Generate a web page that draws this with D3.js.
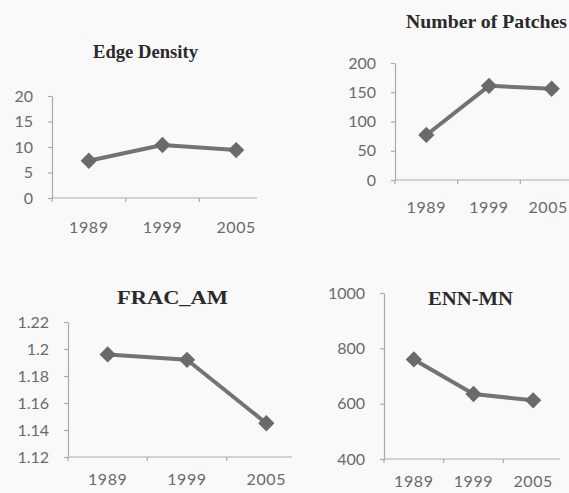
<!DOCTYPE html>
<html>
<head>
<meta charset="utf-8">
<script src="https://cdn.jsdelivr.net/npm/d3@7"></script>
<style>
  html, body { margin: 0; padding: 0; background: #f9f9f9; }
  svg { display: block; }
</style>
</head>
<body>
<svg id="chart" width="569" height="493"></svg>
<script>
// ---- data ----
const years = ["1989", "1999", "2005"];
const edgeDensity = [7.3, 10.4, 9.4];
const numberOfPatches = [77, 161, 156];
const fracAM = [1.196, 1.192, 1.145];
const ennMN = [760, 635, 612];
const edgeTicks = [0, 5, 10, 15, 20];
const patchTicks = [0, 50, 100, 150, 200];
const fracTicks = [1.12, 1.14, 1.16, 1.18, 1.2, 1.22];
const ennTicks = [400, 600, 800, 1000];
const titles = ["Edge Density", "Number of Patches", "FRAC_AM", "ENN-MN"];

const svg = d3.select("#chart");
const W = 569;

const panels = [
  { title: titles[0], values: edgeDensity, ticks: edgeTicks, fmt: d => String(d),
    x0: 52, x1: 273, y0: 198, y1: 96, clipR: 258, axisEnd: 257,
    tx: 93, ty: 58, tw: 105, lp: 24 },
  { title: titles[1], values: numberOfPatches, ticks: patchTicks, fmt: d => String(d),
    x0: 395, x1: 583, y0: 180, y1: 63, clipR: 569, axisEnd: 583,
    tx: 406, ty: 28, tw: 161, lp: 22 },
  { title: titles[2], values: fracAM, ticks: fracTicks, fmt: d => String(+d.toFixed(2)),
    x0: 68, x1: 306, y0: 457, y1: 322, clipR: 292, axisEnd: 292,
    tx: 117, ty: 304, tw: 111, lp: 17 },
  { title: titles[3], values: ennMN, ticks: ennTicks, fmt: d => String(d),
    x0: 384, x1: 563, y0: 459, y1: 293, clipR: 569, axisEnd: 560,
    tx: 428, ty: 305, tw: 85, lp: 17 }
];

panels.forEach((p, i) => {
  const clipId = "clip" + i;
  svg.append("clipPath").attr("id", clipId)
    .append("rect").attr("x", p.x0 - 60).attr("y", p.y1 - 60)
    .attr("width", p.clipR - (p.x0 - 60)).attr("height", p.y0 - p.y1 + 110);

  const g = svg.append("g").attr("clip-path", `url(#${clipId})`);

  const x = d3.scaleBand().domain(years).range([p.x0, p.x1]).paddingInner(0).paddingOuter(0);
  const y = d3.scaleLinear().domain([p.ticks[0], p.ticks[p.ticks.length - 1]]).range([p.y0, p.y1]);

  // y axis
  const ya = g.append("g").attr("transform", `translate(${p.x0},0)`)
    .call(d3.axisLeft(y).tickValues(p.ticks).tickFormat(p.fmt).tickSize(4).tickPadding(15).tickSizeOuter(0));
  ya.select(".domain").attr("stroke", "#ababab").attr("stroke-width", 1.2);
  ya.selectAll(".tick line").attr("stroke", "#ababab").attr("stroke-width", 1.2);
  ya.selectAll(".tick text").attr("fill", "#6a6a6a")
    .style("font-family", "Lato, 'Open Sans', sans-serif").style("font-size", "16px");

  // x axis (labels)
  const xa = g.append("g").attr("transform", `translate(0,${p.y0})`)
    .call(d3.axisBottom(x).tickSize(0).tickPadding(p.lp));
  xa.select(".domain").remove();
  xa.selectAll(".tick text").attr("fill", "#6a6a6a")
    .style("font-family", "Lato, 'Open Sans', sans-serif").style("font-size", "16px")
    .style("letter-spacing", "0.6px")
    .each(function() {
      // keep labels inside the picture's right edge
      const b = this.getBoundingClientRect();
      if (b.right > W - 1) d3.select(this).attr("dx", -(b.right - (W - 1)));
    });

  // x axis line and category-boundary ticks
  g.append("line").attr("x1", p.x0).attr("x2", p.axisEnd)
    .attr("y1", p.y0).attr("y2", p.y0)
    .attr("stroke", "#ababab").attr("stroke-width", 1.2);
  const bounds = years.map(yr => x(yr));
  g.selectAll(".xt").data(bounds).enter().append("line")
    .attr("x1", d => d).attr("x2", d => d)
    .attr("y1", p.y0).attr("y2", p.y0 + 4)
    .attr("stroke", "#ababab").attr("stroke-width", 1.2);

  // series line
  const pts = years.map((yr, k) => [x(yr) + x.bandwidth() / 2, y(p.values[k])]);
  g.append("path").datum(pts)
    .attr("d", d3.line())
    .attr("fill", "none").attr("stroke", "#737373").attr("stroke-width", 4)
    .attr("stroke-linejoin", "round");

  // diamond markers
  const sym = d3.symbol().type(d3.symbolDiamond2).size(170);
  g.selectAll(".mk").data(pts).enter().append("path")
    .attr("transform", d => `translate(${d[0]},${d[1]})`)
    .attr("d", sym)
    .attr("fill", "#6a6a6a");

  // title
  svg.append("text")
    .attr("x", p.tx).attr("y", p.ty)
    .attr("textLength", p.tw).attr("lengthAdjust", "spacingAndGlyphs")
    .style("font-family", "'Liberation Serif', 'Times New Roman', serif")
    .style("font-weight", "bold").style("font-size", "19px")
    .attr("fill", "#2a2a2a")
    .text(p.title);
});
</script>
</body>
</html>
